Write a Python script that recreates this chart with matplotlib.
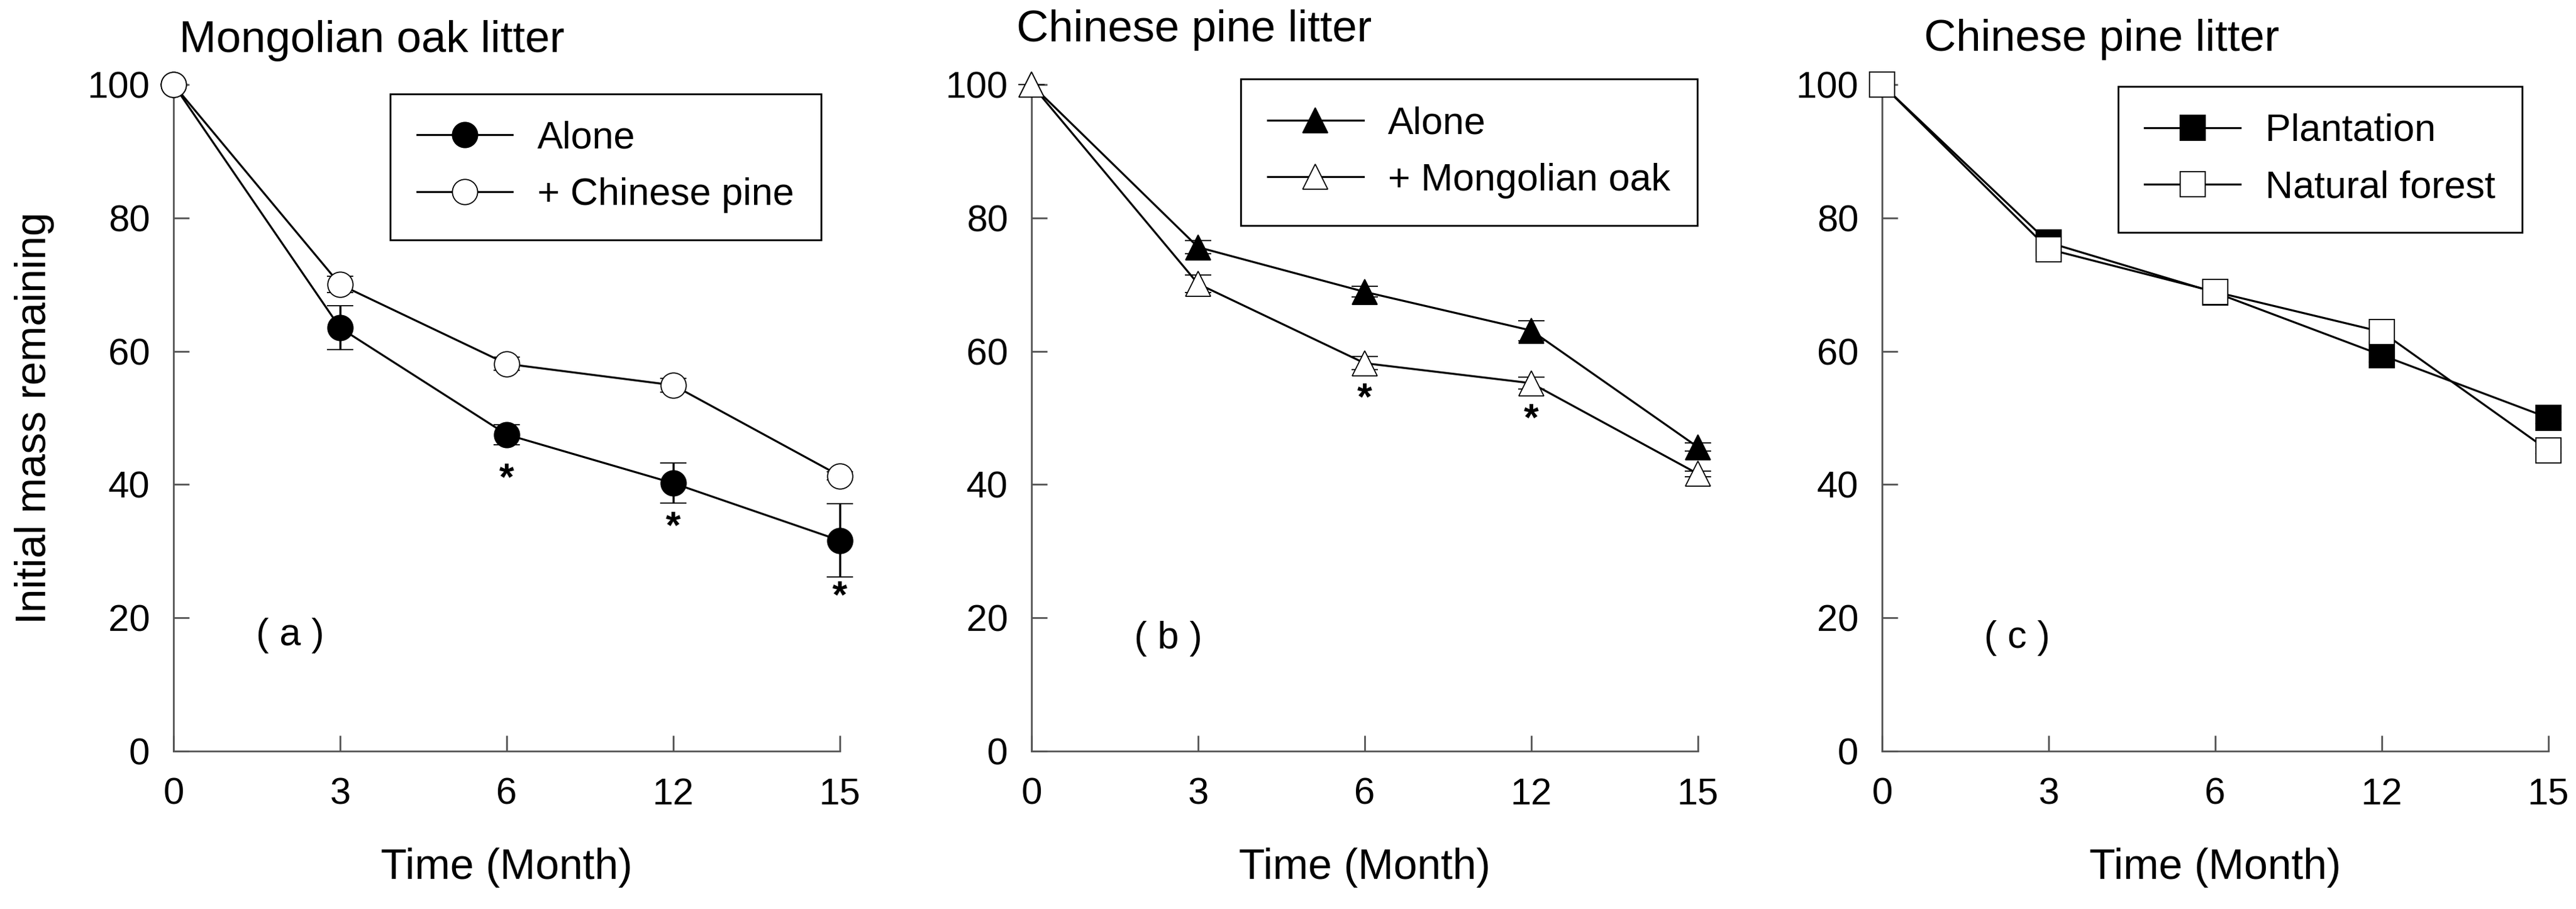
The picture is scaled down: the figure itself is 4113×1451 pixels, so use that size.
import matplotlib
matplotlib.use("Agg")
import matplotlib.pyplot as plt
import numpy as np

plt.rcParams['font.family'] = ['Liberation Sans', 'DejaVu Sans']

# month labels (categorical, equally spaced)
months = ['0', '3', '6', '12', '15']

# (a) Mongolian oak litter
oak_alone = [100, 63.5, 47.5, 40.2, 31.6]
oak_alone_err = [0, 3.3, 1.5, 3.0, 5.5]
oak_mix = [100, 70.0, 58.1, 54.9, 41.3]
oak_mix_err = [0, 1.2, 1.0, 1.0, 0.6]
oak_stars = [(2, 40.7), (3, 33.5), (4, 23.1)]

# (b) Chinese pine litter, alone vs mixed
pine_alone = [100, 75.6, 68.9, 63.1, 45.6]
pine_alone_err = [0, 1.0, 0.8, 1.5, 0.6]
pine_mix = [100, 70.1, 58.2, 55.2, 41.6]
pine_mix_err = [0, 1.3, 1.0, 0.9, 0.4]
pine_stars = [(2, 52.8), (3, 49.7)]

# (c) Chinese pine litter, plantation vs natural forest
plantation = [100, 76.3, 68.8, 59.4, 50.0]
plantation_err = [0, 0.8, 0.5, 1.0, 0.8]
natural = [100, 75.3, 68.9, 62.9, 45.1]
natural_err = [0, 1.0, 0.8, 1.5, 0.5]

W, H = 4113, 1451
fig = plt.figure(figsize=(W / 100, H / 100), dpi=100)

axw = 1064 / W
axh = 1064 / H
lefts = [277, 1647, 3005]
bottom = (H - 1199) / H
axes = [fig.add_axes([l / W, bottom, axw, axh]) for l in lefts]

x = np.arange(len(months))
gray = '#555555'


def series(ax, y, err, marker, face):
    c = ax.errorbar(x, y, yerr=err, color='black', lw=2.3, marker=marker,
                    ms=29, mfc=face, mec='black', mew=1.3, elinewidth=2.5,
                    capsize=15, capthick=2.5, clip_on=False, zorder=3)
    return c[0]


def style(ax, title, title_x, title_y, tag, tag_xy, handles, labels, legend_xy):
    ax.set_xlim(0, 4)
    ax.set_ylim(0, 100)
    ax.set_xticks(x)
    ax.set_xticklabels(months)
    ax.set_yticks([0, 20, 40, 60, 80, 100])
    for s in ['top', 'right']:
        ax.spines[s].set_visible(False)
    for s in ['left', 'bottom']:
        ax.spines[s].set_color(gray)
        ax.spines[s].set_linewidth(2)
    ax.tick_params(direction='in', length=18, width=2, color=gray,
                   labelsize=43)
    ax.tick_params(axis='y', pad=27)
    ax.tick_params(axis='x', pad=30)
    ax.text(title_x, title_y, title, transform=ax.transAxes, fontsize=51,
            ha='left', va='baseline')
    ax.text(0.5, -0.175, 'Time (Month)', transform=ax.transAxes,
            fontsize=49, ha='center', va='center')
    ax.text(tag_xy[0], tag_xy[1], tag, fontsize=44, ha='center',
            va='center')
    leg = ax.legend(handles, labels, loc='upper left',
                    bbox_to_anchor=legend_xy, fontsize=44, numpoints=1,
                    frameon=True, fancybox=False, framealpha=1,
                    edgecolor='black', handlelength=2.5, handletextpad=0.65,
                    borderpad=0.7, labelspacing=0.55, borderaxespad=0)
    leg.get_frame().set_linewidth(2)


ax = axes[0]
h1 = series(ax, oak_alone, oak_alone_err, 'o', 'black')
h2 = series(ax, oak_mix, oak_mix_err, 'o', 'white')
for i, v in oak_stars:
    ax.text(i, v, '*', fontsize=44, fontweight='bold', ha='center', va='center')
style(ax, 'Mongolian oak litter', 0.008, 1.049, '( a )', (0.7, 17.3),
      [h1, h2], ['Alone', '+ Chinese pine'], (0.325, 0.986))
ax.text(-0.209, 0.5, 'Initial mass remaining', transform=ax.transAxes,
        fontsize=49, rotation=90, ha='center', va='center')

ax = axes[1]
h1 = series(ax, pine_alone, pine_alone_err, '^', 'black')
h2 = series(ax, pine_mix, pine_mix_err, '^', 'white')
for i, v in pine_stars:
    ax.text(i, v, '*', fontsize=44, fontweight='bold', ha='center', va='center')
style(ax, 'Chinese pine litter', -0.023, 1.065, '( b )', (0.82, 16.9),
      [h1, h2], ['Alone', '+ Mongolian oak'], (0.314, 1.008))

ax = axes[2]
h1 = series(ax, plantation, plantation_err, 's', 'black')
h2 = series(ax, natural, natural_err, 's', 'white')
style(ax, 'Chinese pine litter', 0.063, 1.051, '( c )', (0.81, 17.0),
      [h1, h2], ['Plantation', 'Natural forest'], (0.354, 0.997))

fig.savefig('out.png', dpi=100)
